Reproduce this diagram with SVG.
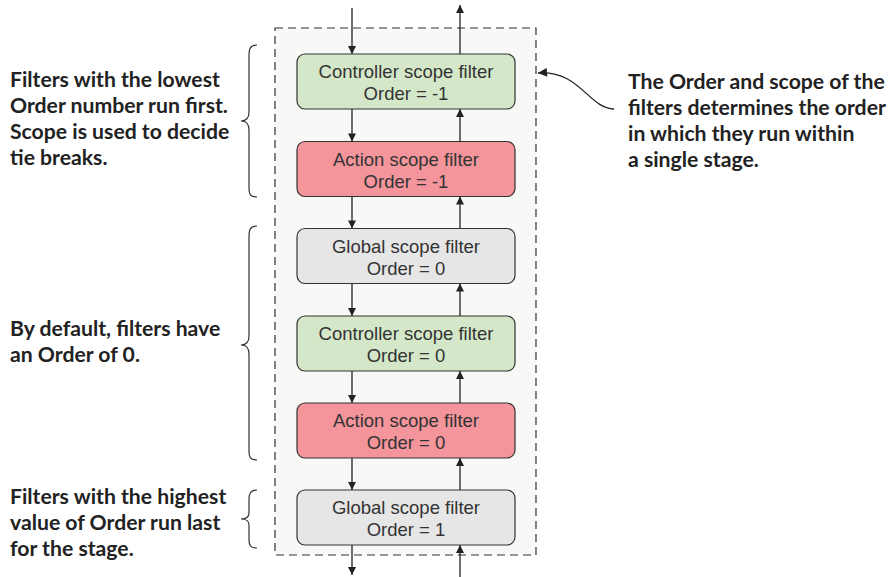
<svg xmlns="http://www.w3.org/2000/svg" width="892" height="577" viewBox="0 0 892 577">
<defs>
<style>
.box{stroke:#333;stroke-width:1.2}
.green{fill:#d4e8c9}
.red{fill:#f4959b}
.gray{fill:#e6e6e6}
.bt{font-family:"Liberation Sans",Arial,sans-serif;font-size:18.5px;fill:#333;text-anchor:middle}
.note{font-family:Lato,"Open Sans",sans-serif;font-weight:bold;font-size:21.2px;fill:#222}
.conn{stroke:#222;stroke-width:1.3;fill:none}
.brace{stroke:#333;stroke-width:1.2;fill:none}
</style>
<marker id="ah" viewBox="0 0 10 10" refX="10" refY="5" markerWidth="9" markerHeight="8" markerUnits="userSpaceOnUse" orient="auto">
<path d="M0,0 L10,5 L0,10 z" fill="#222"/>
</marker>
<marker id="ah2" viewBox="0 0 10 10" refX="10" refY="5" markerWidth="10" markerHeight="9" markerUnits="userSpaceOnUse" orient="auto">
<path d="M0,0 L10,5 L0,10 z" fill="#222"/>
</marker>
</defs>
<rect id="stage" x="275" y="28" width="261" height="527" fill="#f8f8f6" stroke="#333" stroke-width="1.2" stroke-dasharray="8,5"/>
<g id="connectors">
<line class="conn" x1="352" y1="8" x2="352" y2="54" marker-end="url(#ah)"/>
<line class="conn" x1="460" y1="54" x2="460" y2="5" marker-end="url(#ah)"/>
<line class="conn" x1="352" y1="109" x2="352" y2="141.5" marker-end="url(#ah)"/>
<line class="conn" x1="460" y1="141.5" x2="460" y2="109" marker-end="url(#ah)"/>
<line class="conn" x1="352" y1="196.5" x2="352" y2="228.5" marker-end="url(#ah)"/>
<line class="conn" x1="460" y1="228.5" x2="460" y2="196.5" marker-end="url(#ah)"/>
<line class="conn" x1="352" y1="283.5" x2="352" y2="316" marker-end="url(#ah)"/>
<line class="conn" x1="460" y1="316" x2="460" y2="283.5" marker-end="url(#ah)"/>
<line class="conn" x1="352" y1="371" x2="352" y2="403" marker-end="url(#ah)"/>
<line class="conn" x1="460" y1="403" x2="460" y2="371" marker-end="url(#ah)"/>
<line class="conn" x1="352" y1="458" x2="352" y2="490" marker-end="url(#ah)"/>
<line class="conn" x1="460" y1="490" x2="460" y2="458" marker-end="url(#ah)"/>
<line class="conn" x1="352" y1="545" x2="352" y2="575" marker-end="url(#ah)"/>
<line class="conn" x1="460" y1="577" x2="460" y2="545" marker-end="url(#ah)"/>
<path class="conn" d="M614,109 C588,108 580,70 538,73" marker-end="url(#ah2)"/>
</g>
<g id="n1"><rect class="box green" x="297" y="54" width="218" height="55" rx="8"/><text class="bt" x="406" y="78">Controller scope filter</text><text class="bt" x="406" y="100">Order = -1</text></g>
<g id="n2"><rect class="box red" x="297" y="141.5" width="218" height="55" rx="8"/><text class="bt" x="406" y="165.5">Action scope filter</text><text class="bt" x="406" y="187.5">Order = -1</text></g>
<g id="n3"><rect class="box gray" x="297" y="228.5" width="218" height="55" rx="8"/><text class="bt" x="406" y="252.5">Global scope filter</text><text class="bt" x="406" y="274.5">Order = 0</text></g>
<g id="n4"><rect class="box green" x="297" y="316" width="218" height="55" rx="8"/><text class="bt" x="406" y="340">Controller scope filter</text><text class="bt" x="406" y="362">Order = 0</text></g>
<g id="n5"><rect class="box red" x="297" y="403" width="218" height="55" rx="8"/><text class="bt" x="406" y="427">Action scope filter</text><text class="bt" x="406" y="449">Order = 0</text></g>
<g id="n6"><rect class="box gray" x="297" y="490" width="218" height="55" rx="8"/><text class="bt" x="406" y="514">Global scope filter</text><text class="bt" x="406" y="536">Order = 1</text></g>
<g id="braces">
<path class="brace" d="M257,45 C250,45 249,49 249,56 L249,112 C249,118 246,121 241,121 C246,121 249,124 249,130 L249,187 C249,194 250,197 257,197"/>
<path class="brace" d="M257,226 C250,226 249,230 249,237 L249,336 C249,342 246,345 241,345 C246,345 249,348 249,354 L249,450 C249,457 250,460 257,460"/>
<path class="brace" d="M257,490 C250,490 249,494 249,500 L249,513 C249,517 246,519 241,519 C246,519 249,521 249,525 L249,539 C249,545 250,548 257,548"/>
</g>
<g id="note-left-1"><text class="note" x="10" y="87">Filters with the lowest</text><text class="note" x="10" y="113">Order number run first.</text><text class="note" x="10" y="139">Scope is used to decide</text><text class="note" x="10" y="165">tie breaks.</text></g>
<g id="note-left-2"><text class="note" x="10" y="336">By default, filters have</text><text class="note" x="10" y="362">an Order of 0.</text></g>
<g id="note-left-3"><text class="note" x="10" y="504">Filters with the highest</text><text class="note" x="10" y="530">value of Order run last</text><text class="note" x="10" y="556">for the stage.</text></g>
<g id="note-right"><text class="note" x="628" y="89">The Order and scope of the</text><text class="note" x="628" y="115">filters determines the order</text><text class="note" x="628" y="141">in which they run within</text><text class="note" x="628" y="167">a single stage.</text></g>
</svg>
